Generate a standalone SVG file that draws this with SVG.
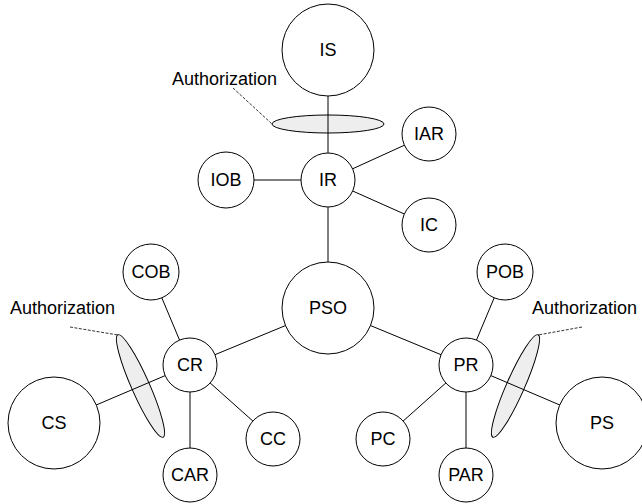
<svg xmlns="http://www.w3.org/2000/svg" width="642" height="504" viewBox="0 0 642 504">
<style>
.n circle{fill:#fff;stroke:#000;stroke-width:1}
text{font-family:"Liberation Sans",Arial,sans-serif;font-size:18px;fill:#000}
.n text{text-anchor:middle}
.e line{stroke:#000;stroke-width:1}
.auth ellipse{fill:#eeeeee;stroke:#000;stroke-width:1}
.lead{stroke:#333;stroke-width:1;stroke-dasharray:3 1.5}
</style>
<rect width="642" height="504" fill="#fff"/>
<g id="authorizations" class="auth">
<ellipse cx="328" cy="124" rx="56" ry="9"/>
<ellipse cx="140.5" cy="386" rx="56" ry="9" transform="rotate(66.2 140.5 386)"/>
<ellipse cx="515.5" cy="386" rx="56" ry="9" transform="rotate(-66.2 515.5 386)"/>
<line class="lead" x1="233" y1="88" x2="272" y2="124"/>
<line class="lead" x1="70" y1="327" x2="118" y2="335"/>
<line class="lead" x1="582" y1="327" x2="538" y2="335"/>
<text x="172" y="85">Authorization</text>
<text x="10" y="314">Authorization</text>
<text x="532" y="314">Authorization</text>
</g>
<g id="connectors" class="e">
<line x1="328" y1="50" x2="328" y2="180"/>
<line x1="328" y1="180" x2="226" y2="180"/>
<line x1="328" y1="180" x2="429" y2="134"/>
<line x1="328" y1="180" x2="429" y2="225"/>
<line x1="328" y1="180" x2="328" y2="308"/>
<line x1="328" y1="308" x2="190" y2="365"/>
<line x1="328" y1="308" x2="466" y2="365"/>
<line x1="190" y1="365" x2="151" y2="272"/>
<line x1="190" y1="365" x2="54" y2="423"/>
<line x1="190" y1="365" x2="190" y2="475"/>
<line x1="190" y1="365" x2="273" y2="439"/>
<line x1="466" y1="365" x2="505" y2="272"/>
<line x1="466" y1="365" x2="602" y2="423"/>
<line x1="466" y1="365" x2="466" y2="475"/>
<line x1="466" y1="365" x2="383" y2="439"/>
</g>
<g id="IS" class="n"><circle cx="328" cy="50" r="46"/><text x="328" y="56">IS</text></g>
<g id="IR" class="n"><circle cx="328" cy="180" r="27"/><text x="328" y="186">IR</text></g>
<g id="IOB" class="n"><circle cx="226" cy="180" r="28"/><text x="226" y="186">IOB</text></g>
<g id="IAR" class="n"><circle cx="429" cy="134" r="27"/><text x="429" y="140">IAR</text></g>
<g id="IC" class="n"><circle cx="429" cy="225" r="27"/><text x="429" y="231">IC</text></g>
<g id="PSO" class="n"><circle cx="328" cy="308" r="46"/><text x="328" y="314">PSO</text></g>
<g id="COB" class="n"><circle cx="151" cy="272" r="28"/><text x="151" y="278">COB</text></g>
<g id="CR" class="n"><circle cx="190" cy="365" r="27"/><text x="190" y="371">CR</text></g>
<g id="CS" class="n"><circle cx="54" cy="423" r="46"/><text x="54" y="429">CS</text></g>
<g id="CAR" class="n"><circle cx="190" cy="475" r="27"/><text x="190" y="481">CAR</text></g>
<g id="CC" class="n"><circle cx="273" cy="439" r="27"/><text x="273" y="445">CC</text></g>
<g id="POB" class="n"><circle cx="505" cy="272" r="28"/><text x="505" y="278">POB</text></g>
<g id="PR" class="n"><circle cx="466" cy="365" r="27"/><text x="466" y="371">PR</text></g>
<g id="PS" class="n"><circle cx="602" cy="423" r="46"/><text x="602" y="429">PS</text></g>
<g id="PAR" class="n"><circle cx="466" cy="475" r="27"/><text x="466" y="481">PAR</text></g>
<g id="PC" class="n"><circle cx="383" cy="439" r="27"/><text x="383" y="445">PC</text></g>
</svg>
